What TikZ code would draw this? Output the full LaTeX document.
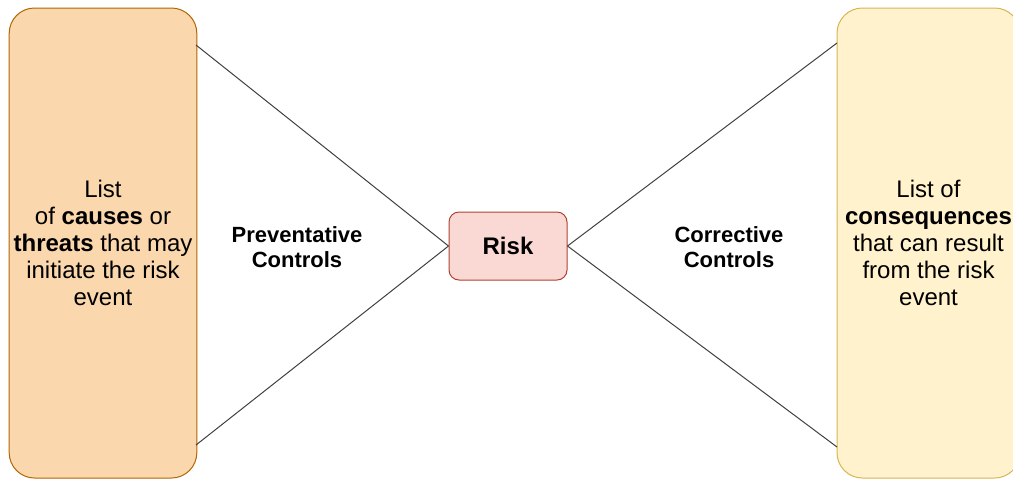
\documentclass[tikz,border=0pt]{standalone}
\usepackage{fontspec}
\setmainfont{Liberation Sans}
\definecolor{causefill}{HTML}{FAD7AC}
\definecolor{causeline}{HTML}{B46504}
\definecolor{conseqfill}{HTML}{FFF2CC}
\definecolor{conseqline}{HTML}{D6B656}
\definecolor{riskfill}{HTML}{FAD9D5}
\definecolor{riskline}{HTML}{AE4132}

\begin{document}
\begin{tikzpicture}[x=0.75pt,y=-0.75pt,
	sidebox/.style={draw, line width=0.75pt, rounded corners=19pt, minimum height=352.5pt, align=center, font=\fontsize{18}{20.25}\selectfont},
	ctrl/.style={align=center, font=\fontsize{16.5}{18.75}\selectfont\bfseries},
	link/.style={line width=0.75pt, draw=black!75}]
\clip (0,0) rectangle (1013,480);

\node[sidebox, fill=causefill, draw=causeline, minimum width=139.5pt] (causes) at (103,243)
	{List\\of \textbf{causes} or\\\textbf{threats} that may\\initiate the risk\\event};
\node[sidebox, fill=conseqfill, draw=conseqline, minimum width=137.25pt] (conseq) at (928.5,243)
	{List of\\\textbf{consequences}\\that can result\\from the risk\\event};
\node[draw=riskline, fill=riskfill, line width=0.75pt, rounded corners=7.5pt, minimum width=88.5pt, minimum height=51pt, font=\fontsize{18}{20}\selectfont\bfseries] (risk) at (508,246) {Risk};

\node[ctrl] (prev) at (297,247) {Preventative\\Controls};
\node[ctrl] (corr) at (729,247) {Corrective\\Controls};

\coordinate (c1) at (196,45);
\coordinate (c2) at (196,445);
\coordinate (q1) at (837,43);
\coordinate (q2) at (837,447);

\draw[link] (c1) -- (risk.west);
\draw[link] (c2) -- (risk.west);
\draw[link] (risk.east) -- (q1);
\draw[link] (risk.east) -- (q2);

\end{tikzpicture}
\end{document}
